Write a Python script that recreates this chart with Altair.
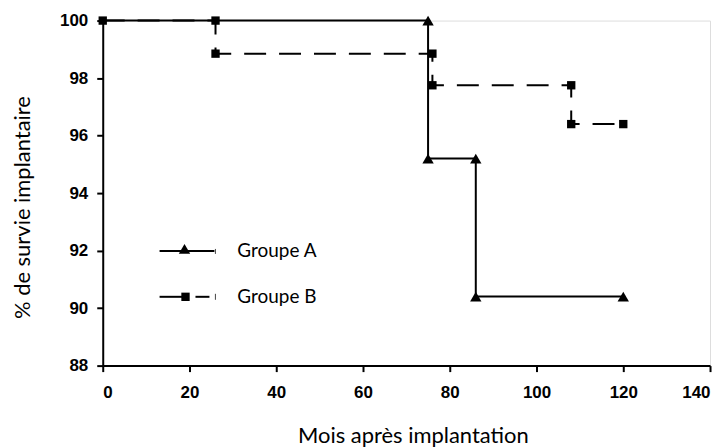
import altair as alt
import pandas as pd

# Kaplan-Meier step vertices (months, % survival)
a_months = [0, 75, 75, 86, 86, 120]
a_surv = [100, 100, 95.2, 95.2, 90.4, 90.4]
b_months = [0, 26, 26, 76, 76, 108, 108, 120]
b_surv = [100, 100, 98.85, 98.85, 97.75, 97.75, 96.4, 96.4]

x_ticks = [0, 20, 40, 60, 80, 100, 120, 140]
y_ticks = [88, 90, 92, 94, 96, 98, 100]
legend_labels = ["Groupe A", "Groupe B"]

dfa = pd.DataFrame({"t": a_months, "s": a_surv, "i": range(len(a_months))})
dfb = pd.DataFrame({"t": b_months, "s": b_surv, "i": range(len(b_months))})
dfa_marks = dfa.iloc[1:]

TICK_FONT = "Liberation Sans Narrow, Liberation Sans, Arial"
TEXT_FONT = "Lato"

x = alt.X("t:Q", scale=alt.Scale(domain=[0, 140], nice=False),
          axis=alt.Axis(values=x_ticks, title="Mois après implantation", grid=False,
                        domain=True, domainColor="black", domainWidth=2,
                        tickColor="black", tickWidth=2, tickSize=6,
                        labelFont=TICK_FONT, labelFontWeight="bold", labelFontSize=17,
                        labelColor="black", labelPadding=13,
                        titleFont=TEXT_FONT, titleFontSize=22, titleFontWeight="normal",
                        titleColor="black", titleX=311, titleY=70,
                        titleBaseline="middle", titleAlign="center"))
y = alt.Y("s:Q", scale=alt.Scale(domain=[88, 100], nice=False, zero=False),
          axis=alt.Axis(values=y_ticks, title="% de survie implantaire", grid=False,
                        domain=True, domainColor="black", domainWidth=2,
                        tickColor="black", tickWidth=2, tickSize=6,
                        labelFont=TICK_FONT, labelFontWeight="bold", labelFontSize=17,
                        labelColor="black", labelPadding=9,
                        titleFont=TEXT_FONT, titleFontSize=22, titleFontWeight="normal",
                        titleColor="black", titleAngle=270, titleX=-80, titleY=187,
                        titleBaseline="middle", titleAlign="center"))

line_a = alt.Chart(dfa).mark_line(color="black", strokeWidth=2).encode(x=x, y=y, order="i:Q")
pts_a = alt.Chart(dfa_marks).mark_point(shape="triangle-up", filled=True, color="black",
                                        size=130, opacity=1).encode(x=x, y=y)
line_b = alt.Chart(dfb).mark_line(color="black", strokeWidth=2,
                                  strokeDash=[22, 13]).encode(x=x, y=y, order="i:Q")
pts_b = alt.Chart(dfb).mark_point(shape="square", filled=True, color="black",
                                  size=70, opacity=1).encode(x=x, y=y)

# manual legend (pixel positions inside plot area)
leg_base = alt.Chart(pd.DataFrame({"k": [0]}))
leg_a_line = leg_base.mark_rule(color="black", strokeWidth=2).encode(
    x=alt.value(57), x2=alt.value(112), y=alt.value(231))
leg_a_pt = leg_base.mark_point(shape="triangle-up", filled=True, color="black",
                               size=130, opacity=1).encode(x=alt.value(82), y=alt.value(229))
leg_b_line1 = leg_base.mark_rule(color="black", strokeWidth=2).encode(
    x=alt.value(57), x2=alt.value(82), y=alt.value(277))
leg_b_line2 = leg_base.mark_rule(color="black", strokeWidth=2).encode(
    x=alt.value(93), x2=alt.value(107), y=alt.value(277))
leg_b_pt = leg_base.mark_point(shape="square", filled=True, color="black",
                               size=70, opacity=1).encode(x=alt.value(83), y=alt.value(277))
leg_a_stub = leg_base.mark_rule(color="#444444", strokeWidth=1).encode(
    x=alt.value(113), y=alt.value(229), y2=alt.value(234))
leg_b_stub = leg_base.mark_rule(color="#444444", strokeWidth=1).encode(
    x=alt.value(113), y=alt.value(274), y2=alt.value(280))

leg_text = alt.Chart(pd.DataFrame({"label": legend_labels, "yy": [231, 277]})).mark_text(
    align="left", baseline="middle", font=TEXT_FONT, fontSize=19, color="black"
).encode(x=alt.value(135), y=alt.Y("yy:Q", scale=None), text="label:N")

chart = alt.layer(
    line_a, line_b, pts_a, pts_b,
    leg_a_line, leg_a_pt, leg_a_stub, leg_b_line1, leg_b_line2, leg_b_pt, leg_b_stub, leg_text
).properties(
    width=609, height=346,
    autosize=alt.AutoSizeParams(type="none"),
    padding={"left": 95, "top": 12, "right": 10, "bottom": 82},
).configure_view(stroke=None).configure(background="white")

chart.save("out.html", embed_options={"renderer": "svg", "actions": False})
